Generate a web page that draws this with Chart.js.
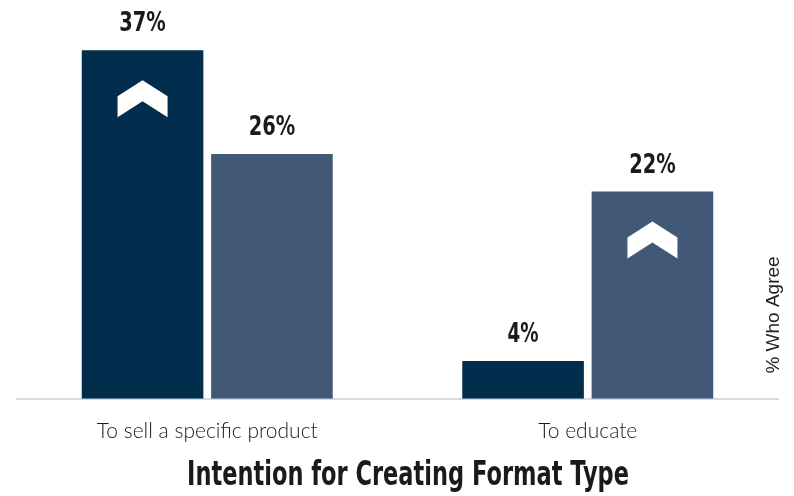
<!DOCTYPE html>
<html>
<head>
<meta charset="utf-8">
<script src="https://cdn.jsdelivr.net/npm/chart.js@4/dist/chart.umd.min.js"></script>
<style>
  html, body { margin: 0; padding: 0; background: #fff; }
  #wrap { width: 794px; height: 496px; }
</style>
</head>
<body>
<div id="wrap"><canvas id="chart"></canvas></div>
<script>
// categories and values (% who agree)
const categories = ['To sell a specific product', 'To educate'];
const seriesA = [37, 4];
const seriesB = [26, 22];
// which bars carry the white "up" chevron
const chevronA = [true, false];
const chevronB = [false, true];

const navy = '#032d4c';
const slate = '#425877';
const xTitle = 'Intention for Creating Format Type';
const yTitle = '% Who Agree';

// draw text squeezed horizontally to a target width (narrow, tall look)
function squeezed(ctx, text, x, y, width) {
  const w = ctx.measureText(text).width;
  ctx.save();
  ctx.translate(x, y);
  ctx.scale(Math.min(1, width / w), 1);
  ctx.fillText(text, 0, 0);
  ctx.restore();
}

// labels above bars + chevrons + axis titles
const decorations = {
  id: 'decorations',
  afterDatasetsDraw(chart) {
    const ctx = chart.ctx;
    const flags = [chevronA, chevronB];
    chart.data.datasets.forEach((ds, di) => {
      chart.getDatasetMeta(di).data.forEach((bar, i) => {
        ctx.save();
        ctx.fillStyle = '#1a1a1a';
        ctx.font = 'bold 26px "DejaVu Sans", sans-serif';
        ctx.textAlign = 'center';
        ctx.textBaseline = 'alphabetic';
        const label = ds.data[i] + '%';
        squeezed(ctx, label, bar.x, bar.y - 19, label.length * 15.5);
        if (flags[di][i]) {
          const cx = bar.x, top = bar.y + 30;
          ctx.fillStyle = '#ffffff';
          ctx.beginPath();
          ctx.moveTo(cx, top);
          ctx.lineTo(cx + 25, top + 16);
          ctx.lineTo(cx + 25, top + 37);
          ctx.lineTo(cx, top + 21);
          ctx.lineTo(cx - 25, top + 37);
          ctx.lineTo(cx - 25, top + 16);
          ctx.closePath();
          ctx.fill();
        }
        ctx.restore();
      });
    });
    // x axis title
    ctx.save();
    ctx.fillStyle = '#1a1a1a';
    ctx.font = 'bold 33px "DejaVu Sans", sans-serif';
    ctx.textAlign = 'center';
    ctx.textBaseline = 'alphabetic';
    squeezed(ctx, xTitle, 408, 485, 442);
    ctx.restore();
    // y axis title, on the right
    ctx.save();
    ctx.translate(779, 315);
    ctx.rotate(-Math.PI / 2);
    ctx.fillStyle = '#222';
    ctx.font = '19px "Liberation Sans", Arial, sans-serif';
    ctx.textAlign = 'center';
    ctx.textBaseline = 'alphabetic';
    ctx.fillText(yTitle, 0, 0);
    ctx.restore();
  }
};

new Chart(document.getElementById('chart'), {
  type: 'bar',
  data: {
    labels: categories,
    datasets: [
      { label: 'A', data: seriesA, backgroundColor: navy, barPercentage: 0.94, categoryPercentage: 0.68 },
      { label: 'B', data: seriesB, backgroundColor: slate, barPercentage: 0.94, categoryPercentage: 0.68 }
    ]
  },
  options: {
    responsive: true,
    maintainAspectRatio: false,
    animation: false,
    layout: { padding: { left: 17, right: 16, top: 22, bottom: 32 } },
    plugins: { legend: { display: false }, tooltip: { enabled: false } },
    scales: {
      x: {
        grid: { display: false, drawTicks: false },
        border: { display: true, color: '#d3dbe6', width: 2 },
        ticks: {
          color: '#1a1a1a',
          padding: 20,
          font: { family: 'Lato', size: 21, weight: '300' }
        }
      },
      y: {
        display: false,
        min: 0,
        max: 40
      }
    }
  },
  plugins: [decorations]
});
</script>
</body>
</html>
